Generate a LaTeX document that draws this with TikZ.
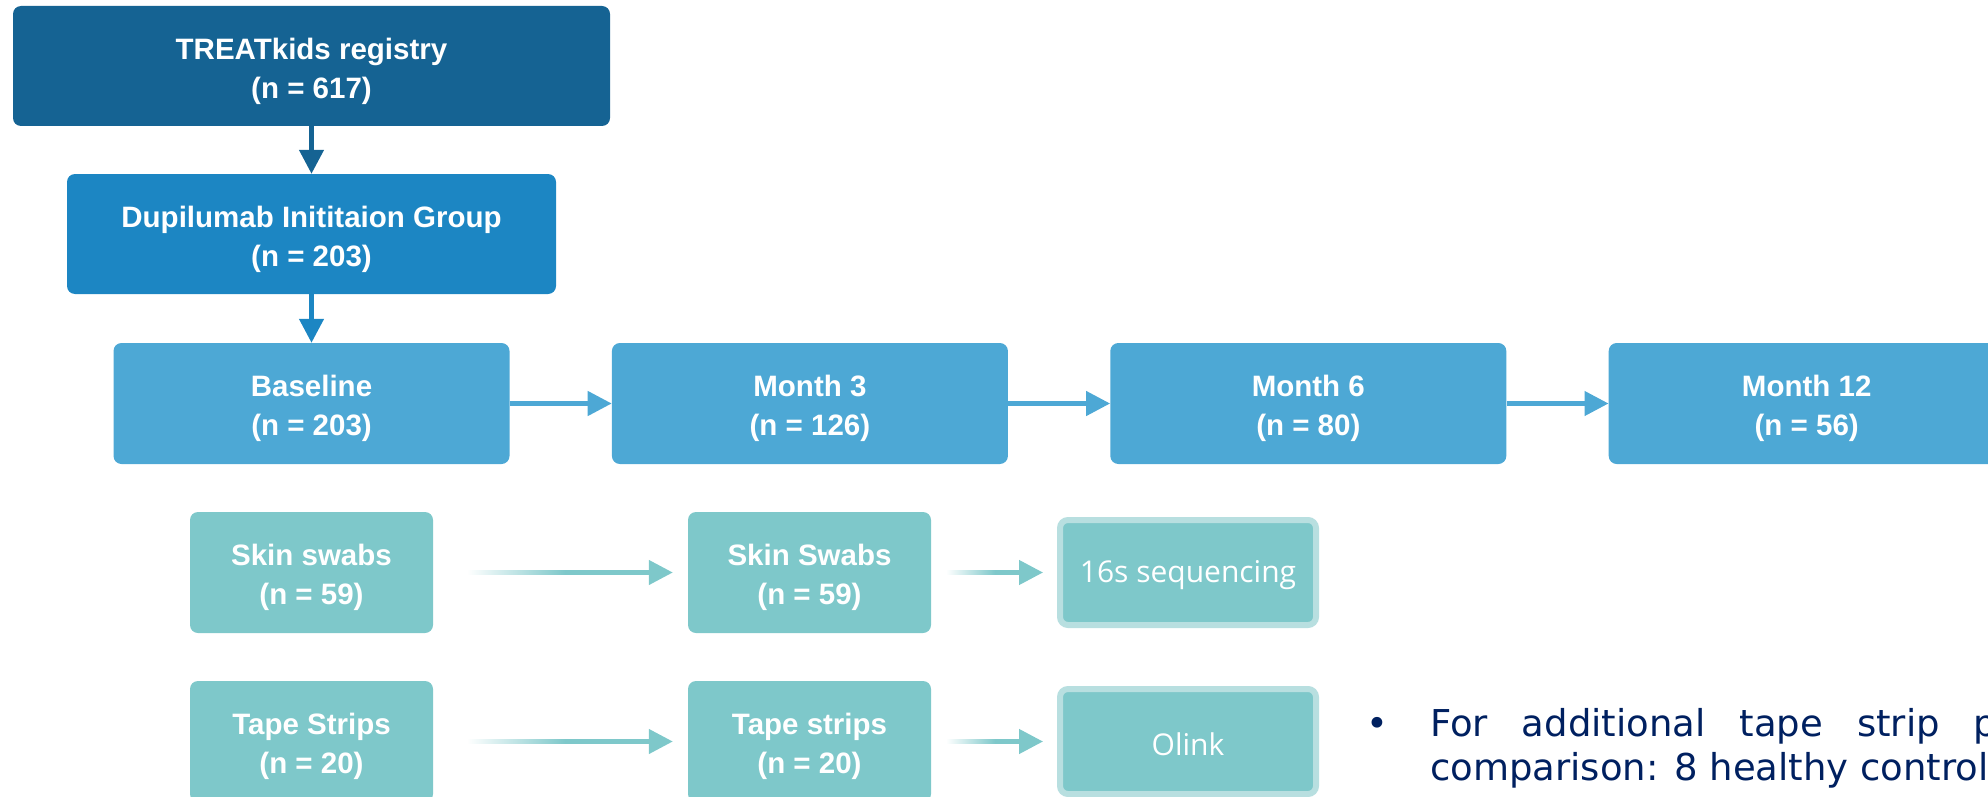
\documentclass[tikz,border=0pt]{standalone}
\usepackage{fontspec}
\setmainfont{Liberation Sans}
\newfontfamily\assayfont{Open Sans}
\newfontfamily\notefont{DejaVu Sans}
\usetikzlibrary{arrows.meta,positioning}
\definecolor{regblue}{HTML}{156393}
\definecolor{dupblue}{HTML}{1C86C3}
\definecolor{visitblue}{HTML}{4DA8D5}
\definecolor{sampleteal}{HTML}{7EC8CA}
\definecolor{assayrim}{HTML}{B8DFE0}
\definecolor{notenavy}{HTML}{002060}
\newcommand{\topline}{\rule{0pt}{31.5pt}}

\begin{document}
\begin{tikzpicture}[x=1pt,y=-1pt,
	stagebox/.style={rectangle, rounded corners=8pt, inner sep=0pt, align=center, text=white, font=\fontsize{29.5}{39}\selectfont\bfseries},
	visitbox/.style={stagebox, fill=visitblue, minimum width=396pt, minimum height=121pt},
	samplebox/.style={stagebox, fill=sampleteal, minimum width=243pt, minimum height=121pt},
	assaybox/.style={stagebox, fill=sampleteal, draw=assayrim, line width=6pt, minimum width=256pt, minimum height=105pt, text height=28pt, font=\assayfont\fontsize{30}{36}\selectfont},
	flowarrow/.style={-{Triangle[length=24pt,width=24pt]}, line width=4.5pt},
	notetext/.style={inner sep=0pt, text=notenavy, font=\notefont\fontsize{37}{44}\selectfont}
]
\useasboundingbox (0,0) rectangle (1988,797);
\clip (0,0) rectangle (1988,797);

% registry and treatment group
\node [stagebox, fill=regblue, minimum width=597pt, minimum height=120pt] (reg) at (311.5,66) {\topline TREATkids registry\\(n = 617)};
\node [stagebox, fill=dupblue, minimum width=489pt, minimum height=120pt] (dup) at (311.5,234) {\topline Dupilumab Inititaion Group\\(n = 203)};

% visits
\node [visitbox] (base) at (311.5,403.5) {\topline Baseline\\(n = 203)};
\node [visitbox, right=102pt of base] (m3) {\topline Month 3\\(n = 126)};
\node [visitbox, right=102pt of m3] (m6) {\topline Month 6\\(n = 80)};
\node [visitbox, right=102pt of m6] (m12) {\topline Month 12\\(n = 56)};

% samples
\node [samplebox] (swab) at (311.5,572.5) {\topline Skin swabs\\(n = 59)};
\node [samplebox] (swab2) at (809.5,572.5) {\topline Skin Swabs\\(n = 59)};
\node [assaybox] (seq) at (1188,572.5) {16s sequencing};
\node [samplebox] (tape) at (311.5,741.5) {\topline Tape Strips\\(n = 20)};
\node [samplebox] (tape2) at (809.5,741.5) {\topline Tape strips\\(n = 20)};
\node [assaybox] (olink) at (1188,741.5) {Olink};

\draw [flowarrow, regblue] (reg) -- (dup);
\draw [flowarrow, dupblue] (dup) -- (base);
\foreach \from/\to in {base/m3, m3/m6, m6/m12}
	\draw [flowarrow, visitblue] (\from) -- (\to);

% faded sample arrows
\coordinate (swabtail) at (468,572.5);
\coordinate (swab2tail) at (947,572.5);
\coordinate (tapetail) at (468,741.5);
\coordinate (tape2tail) at (947,741.5);
\draw [flowarrow, sampleteal, shorten >=15pt] (swabtail) -- (swab2);
\draw [flowarrow, sampleteal, shorten >=14pt] (swab2tail) -- (seq);
\draw [flowarrow, sampleteal, shorten >=15pt] (tapetail) -- (tape2);
\draw [flowarrow, sampleteal, shorten >=14pt] (tape2tail) -- (olink);
\shade [left color=white, right color=sampleteal] (467,570.25) rectangle (565,574.75);
\shade [left color=white, right color=sampleteal] (946,570.25) rectangle (995,574.75);
\shade [left color=white, right color=sampleteal] (467,739.25) rectangle (565,743.75);
\shade [left color=white, right color=sampleteal] (946,739.25) rectangle (995,743.75);

% note
\node [notetext, anchor=base] (dot) at (1377,736) {•};
\node [notetext, anchor=base west] (line1) at (1430,736) {\hbox to 567pt{For\hfill additional\hfill tape\hfill strip\hfill p}};
\node [notetext, anchor=base west] (line2) at (1430,780) {comparison: 8 healthy control};
\end{tikzpicture}
\end{document}
